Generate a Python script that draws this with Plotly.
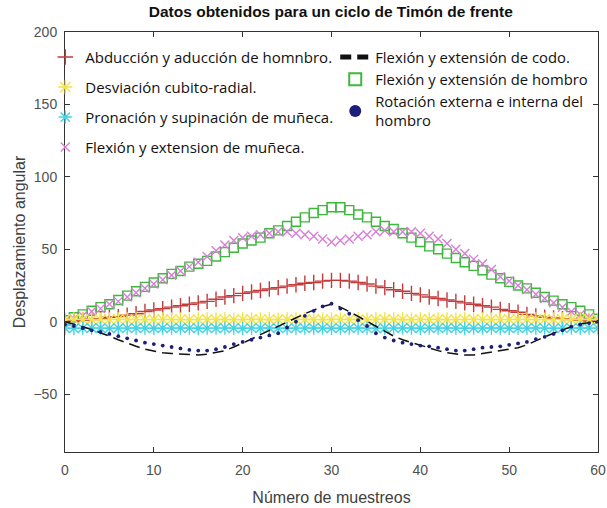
import plotly.graph_objects as go

x_muestras = list(range(0, 61))

abduccion_hombro = [0, 0.5, 1, 1.5, 2, 3, 3.5, 4.5, 5.5, 7, 8, 9, 10, 11, 12, 13, 14, 15.5, 17, 18,
                    19.5, 20.5, 21.5, 22.5, 23.5, 24.5, 25.5, 26.5, 27, 28, 28.5, 28.5, 28, 27, 26, 24.5,
                    23.5, 22, 21, 19.5, 18.5, 17, 16, 15, 14, 13, 12, 11, 10, 8.5, 7.5, 6.5, 5, 4, 3,
                    2.5, 2, 1.5, 1, 0.5, 0]

desviacion_cubito = [1.5, 1.5, 1.6, 1.5, 1.4, 1.5, 1.6, 1.5, 1.5, 1.4, 1.5, 1.6, 1.5, 1.5, 1.4, 1.5,
                     1.6, 1.5, 1.5, 1.4, 1.5, 1.6, 1.5, 1.5, 1.4, 1.5, 1.6, 1.5, 1.5, 1.4, 1.5, 1.6,
                     1.5, 1.5, 1.4, 1.5, 1.6, 1.5, 1.5, 1.4, 1.5, 1.6, 1.5, 1.5, 1.4, 1.5, 1.6, 1.5,
                     1.5, 1.4, 1.5, 1.6, 1.5, 1.5, 1.4, 1.5, 1.6, 1.5, 1.5, 1.4, 1.5]

pronacion_munieca = [-4.5, -4.6, -4.5, -4.4, -4.5, -4.6, -4.5, -4.5, -4.4, -4.5, -4.6, -4.5, -4.5,
                     -4.4, -4.5, -4.6, -4.5, -4.5, -4.4, -4.5, -4.6, -4.5, -4.5, -4.4, -4.5, -4.6,
                     -4.5, -4.5, -4.4, -4.5, -4.6, -4.5, -4.5, -4.4, -4.5, -4.6, -4.5, -4.5, -4.4,
                     -4.5, -4.6, -4.5, -4.5, -4.4, -4.5, -4.6, -4.5, -4.5, -4.4, -4.5, -4.6, -4.5,
                     -4.5, -4.4, -4.5, -4.6, -4.5, -4.5, -4.4, -4.5, -4.5]

flexion_munieca = [0, 2, 4, 7, 9, 12, 14, 17, 20, 23, 26, 29, 32, 35, 38, 41, 45, 49, 53, 56,
                   58, 59, 60, 61, 62, 62, 61, 60, 59, 57, 55, 56, 57, 59, 60, 62, 63, 62, 62, 62,
                   61, 59, 57, 54, 50, 47, 43, 40, 36, 31, 28, 25, 22, 19, 16, 13, 10, 7, 5, 3, 1]

flexion_codo = [0, -1.5, -3.5, -5.5, -7.5, -10, -12.5, -15, -17, -19, -20.5, -21.5, -22, -22.5, -23,
                -23, -22.5, -21.5, -20, -17.5, -15, -12, -9, -6, -3, -0.5, 2.5, 5.5, 8, 10.5, 12,
                10, 7, 3.5, 0, -3.5, -7, -10, -12.5, -14.5, -16, -18, -20, -21.5, -22.5, -23, -23,
                -22, -21, -20.5, -19.5, -18, -16, -13, -10.5, -8, -5.5, -3.5, -1.5, -0.5, 0]

flexion_hombro = [1, 3, 5, 7.5, 10, 12, 15, 18, 21, 24, 27, 30, 33, 35, 38, 40, 42, 45, 48, 51,
                  54, 56, 58, 61, 63, 66, 69, 72, 75, 77, 79, 79, 77, 74, 72, 69, 66, 64, 61, 58,
                  55, 52, 50, 47, 44, 41, 38.5, 35.5, 32.5, 30, 27.5, 25, 23, 20, 17, 14.5, 12, 10,
                  7.5, 5, 2]

rotacion_hombro = [-2, -3, -4.5, -6, -7, -8.5, -10, -11.5, -13, -14.5, -15.5, -16.5, -17.5, -18.5,
                   -19.5, -20, -20, -19, -17.5, -15.5, -14, -12.5, -11, -9.5, -8, -4, 0, 4, 7.5,
                   10.5, 12.5, 9, 5.5, 1, -3, -8, -11, -13, -14.5, -15.5, -16.5, -17, -18, -19, -20,
                   -20, -19, -18, -17.5, -17, -16, -15, -14, -12, -10.5, -8.5, -6, -3.5, -2, -1, 0]

nombres = ["Abducción y aducción de homnbro.", "Desviación cubito-radial.",
           "Pronación y supinación de muñeca.", "Flexión y extension de muñeca.",
           "Flexión y extensión de codo.", "Flexión y extensión de hombro",
           "Rotación externa e interna del<br>hombro"]

titulo = "Datos obtenidos para un ciclo de Timón de frente"
eje_x = "Número de muestreos"
eje_y = "Desplazamiento angular"
ticks_x = [0, 10, 20, 30, 40, 50, 60]
ticks_y = [-50, 0, 50, 100, 150, 200]

fig = go.Figure()

fig.add_trace(go.Scatter(
    x=x_muestras, y=flexion_hombro, name=nombres[5], mode="markers",
    marker=dict(symbol="square-open", size=9, color="#3cb83c", line=dict(width=1.4)),
    legend="legend2", legendgroup="g6", legendrank=6))
fig.add_trace(go.Scatter(
    x=x_muestras, y=flexion_munieca, name=nombres[3], mode="markers",
    marker=dict(symbol="x-thin-open", size=9, color="#d67fd6", line=dict(width=1.4, color="#d67fd6")),
    legend="legend", legendgroup="g4", legendrank=4))
fig.add_trace(go.Scatter(
    x=x_muestras, y=abduccion_hombro, name=nombres[0], mode="markers",
    marker=dict(symbol="cross-thin-open", size=11, color="#c23a3a", line=dict(width=1.4, color="#c23a3a")),
    legend="legend", legendgroup="g1", legendrank=1))
fig.add_trace(go.Scatter(
    x=x_muestras, y=desviacion_cubito, name=nombres[1], mode="markers",
    marker=dict(symbol="asterisk-open", size=12, color="#f2e34a", line=dict(width=1.4, color="#f2e34a")),
    legend="legend", legendgroup="g2", legendrank=2))
fig.add_trace(go.Scatter(
    x=x_muestras, y=pronacion_munieca, name=nombres[2], mode="markers",
    marker=dict(symbol="asterisk-open", size=11, color="#45d3e3", line=dict(width=1.4, color="#45d3e3")),
    legend="legend", legendgroup="g3", legendrank=3))
fig.add_trace(go.Scatter(
    x=x_muestras, y=flexion_codo, name=nombres[4], mode="lines",
    line=dict(color="#111111", width=1.5, dash="11px,6px"),
    legend="legend2", legendgroup="g5", legendrank=5))
fig.add_trace(go.Scatter(
    x=x_muestras, y=rotacion_hombro, name=nombres[6], mode="markers",
    marker=dict(symbol="circle", size=3.8, color="#1b1f7a"),
    legend="legend2", legendgroup="g7", legendrank=7))

ejes = dict(showline=True, linecolor="#333333", linewidth=1, mirror="ticks", ticks="inside",
            ticklen=5, tickcolor="#333333", showgrid=False, zeroline=False, automargin=False,
            tickfont=dict(family="Arial, Liberation Sans", size=14, color="#505050"))

fig.update_layout(
    width=607, height=508,
    margin=dict(l=65, r=9, t=32, b=56, autoexpand=False),
    paper_bgcolor="white", plot_bgcolor="white",
    title=dict(text="<b>" + titulo + "</b>", x=0.545, xanchor="center", y=0.978, yanchor="middle",
               font=dict(family="Arial, Liberation Sans", size=15.5, color="#111111")),
    xaxis=dict(range=[0, 60], tickvals=ticks_x, ticklabelstandoff=5,
               title=dict(text=eje_x, standoff=15,
               font=dict(family="Arial, Liberation Sans", size=16, color="#404040")), **ejes),
    yaxis=dict(range=[-90, 200], tickvals=ticks_y, ticklabelstandoff=4,
               title=dict(text=eje_y, standoff=3,
               font=dict(family="Arial, Liberation Sans", size=16, color="#404040")), **ejes),
    legend=dict(x=-0.037, y=0.979, xanchor="left", yanchor="top",
                bgcolor="rgba(0,0,0,0)",
                font=dict(family="Open Sans", size=15, color="#111111"),
                itemsizing="trace", tracegroupgap=7.5, itemwidth=30),
    legend2=dict(x=0.507, y=0.979, xanchor="left", yanchor="top",
                 bgcolor="rgba(0,0,0,0)",
                 font=dict(family="Open Sans", size=14.8, color="#111111"),
                 itemsizing="constant", tracegroupgap=0, itemwidth=30),
    showlegend=True,
)

fig.write_html("out.html", config={"displayModeBar": False},
               post_script="document.body.style.margin='0';")
